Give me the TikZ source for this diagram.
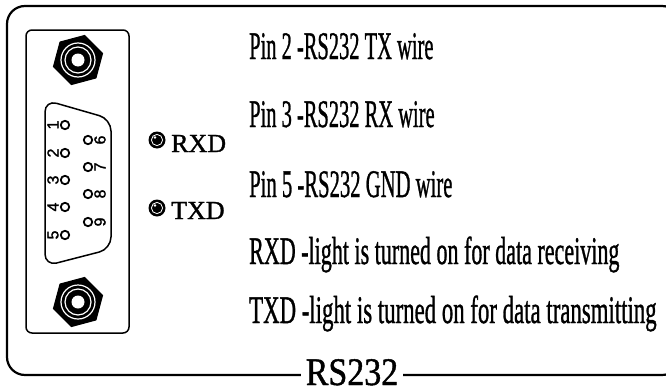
\documentclass[tikz,border=0pt]{standalone}
\usepackage{fontspec}
\usepackage{graphicx}
\setmainfont{Liberation Serif}
\newfontfamily\infofont{Liberation Serif}[FakeBold=1.2]
\newfontfamily\pinfont{Liberation Sans}[FakeBold=1.5]
\newcommand\narrow[2][0.57]{\scalebox{#1}[1]{#2}}
\tikzset{
    infotext/.style={anchor=base west, inner sep=0pt, font=\infofont\fontsize{39}{40}\selectfont},
    ledtext/.style={anchor=base west, inner sep=0pt, font=\infofont\fontsize{26}{28}\selectfont},
    pinnum/.style={inner sep=0pt, rotate=90, font=\pinfont\fontsize{16}{16}\selectfont},
    pinhole/.style={line width=1.8pt}
}
\begin{document}
\begin{tikzpicture}[x=1pt,y=-1pt]
    \useasboundingbox (0,0) rectangle (666,388);

    % Cadre extérieur
    \draw[line width=2.2pt, rounded corners=18pt] (7,6) rectangle (680,375);

    % Plaque du connecteur
    \draw[line width=1.5pt, rounded corners=6pt] (26,30) rectangle (129,333);

    % Ecrous hexagonaux (haut et bas)
    \foreach \ny in {60,302} {
        \begin{scope}[shift={(78,\ny)}]
            \fill (285:26) -- (345:26) -- (45:26) -- (105:26) -- (165:26) -- (225:26) -- cycle;
            \draw[white, line width=1.2pt] (0,0) circle (17);
            \draw[white, line width=1.2pt] (0,0) circle (13);
            \fill[white] (0,0) circle (6.5);
        \end{scope}
    }

    % Coque du connecteur DB9
    \draw[line width=1.5pt, rounded corners=12pt] (45,100) -- (111,119) -- (111,249) -- (45,266) -- cycle;

    % Broches 1 a 5
    \foreach \n/\py in {1/125,2/153,3/180,4/207,5/235} {
        \draw[pinhole] (65,\py) circle (4.2);
        \node[pinnum] (num\n) at (53,\py) {\n};
    }
    % Broches 6 a 9
    \foreach \n/\py in {6/140,7/167,8/194,9/222} {
        \draw[pinhole] (88,\py) circle (4.2);
        \node[pinnum] (num\n) at (100,\py) {\n};
    }

    % Voyants RXD et TXD
    \foreach \ly in {140,208} {
        \fill (157,\ly) circle (8.5);
        \draw[white, line width=0.8pt] (157,\ly) circle (5.6);
        \fill[white] (155,\ly-2.5) circle (1.3);
    }
    \node[ledtext] (rxd) at (171,152) {RXD};
    \node[ledtext] (txd) at (171,219) {TXD};

    % Descriptions
    \node[infotext] (pin2) at (249,59) {\narrow[0.525]{Pin 2 -RS232 TX wire}};
    \node[infotext] (pin3) at (249,127) {\narrow[0.525]{Pin 3 -RS232 RX wire}};
    \node[infotext] (pin5) at (249,197) {\narrow[0.53]{Pin 5 -RS232 GND wire}};
    \node[infotext] (rxdinfo) at (249,264) {\narrow[0.565]{RXD -light is turned on for data receiving}};
    \node[infotext] (txdinfo) at (249,323) {\narrow[0.585]{TXD -light is turned on for data transmitting}};

    % Titre sur le cadre
    \node[fill=white, inner xsep=5pt, inner ysep=0pt, anchor=base, font=\infofont\fontsize{39}{40}\selectfont] (title) at (352,385) {\narrow[0.87]{RS232}};
\end{tikzpicture}
\end{document}
